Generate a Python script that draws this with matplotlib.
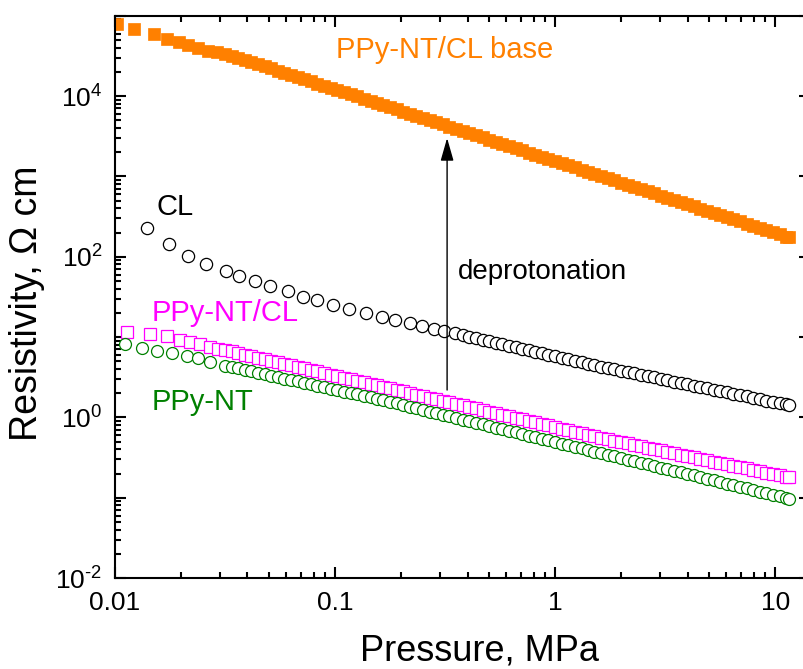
import numpy as np
import matplotlib.pyplot as plt
from matplotlib.ticker import LogLocator, FuncFormatter, NullFormatter

plt.rcParams['font.family'] = ['Liberation Sans', 'DejaVu Sans']
plt.rcParams['mathtext.fontset'] = 'custom'
plt.rcParams['mathtext.rm'] = 'Liberation Sans'
plt.rcParams['mathtext.default'] = 'regular'
plt.rcParams['axes.unicode_minus'] = False

# --- data (pressure in MPa, resistivity in Ohm cm) ---
pressure_grid = [0.0316, 0.0339, 0.0363, 0.0389, 0.0417, 0.0447, 0.0479, 0.0513, 0.0550, 0.0589,
                 0.0631, 0.0676, 0.0724, 0.0776, 0.0832, 0.0891, 0.0955, 0.102, 0.110, 0.118,
                 0.126, 0.135, 0.145, 0.155, 0.166, 0.178, 0.191, 0.204, 0.219, 0.234,
                 0.251, 0.269, 0.288, 0.309, 0.331, 0.355, 0.380, 0.407, 0.437, 0.468,
                 0.501, 0.537, 0.575, 0.617, 0.661, 0.708, 0.759, 0.813, 0.871, 0.933,
                 1.00, 1.07, 1.15, 1.23, 1.32, 1.41, 1.51, 1.62, 1.74, 1.86,
                 2.00, 2.14, 2.29, 2.45, 2.63, 2.82, 3.02, 3.24, 3.47, 3.72,
                 3.98, 4.27, 4.57, 4.90, 5.25, 5.62, 6.03, 6.46, 6.92, 7.41,
                 7.94, 8.51, 9.12, 9.77, 10.5, 11.2, 11.5]

# PPy-NT/CL base
base_p_low = [0.0102, 0.0122, 0.0151, 0.0172, 0.0196, 0.0214, 0.0239, 0.0265, 0.0290]
base_r_low = [78800, 68300, 59200, 51300, 47000, 43500, 39300, 36800, 34900]
base_r = [33100, 31300, 29900, 28200, 26500, 24900, 23500, 22100, 20700, 19500,
          18300, 17200, 16200, 15200, 14300, 13500, 12600, 11900, 11200, 10500,
          9880, 9290, 8730, 8210, 7720, 7260, 6820, 6410, 6030, 5670,
          5330, 5010, 4710, 4430, 4160, 3910, 3680, 3460, 3250, 3060,
          2870, 2700, 2540, 2390, 2240, 2110, 1980, 1870, 1750, 1650,
          1550, 1460, 1370, 1290, 1210, 1140, 1070, 1010, 945, 889,
          836, 786, 739, 694, 653, 614, 577, 542, 510, 479,
          451, 424, 398, 374, 352, 331, 311, 292, 275, 258,
          243, 228, 215, 202, 190, 178, 175]

# CL
cl_p_low = [0.0140, 0.0176, 0.0215, 0.0260, 0.0318, 0.0366, 0.0434, 0.0506, 0.0613, 0.0718,
            0.0831, 0.0982, 0.116, 0.138, 0.163, 0.188, 0.218, 0.249, 0.282, 0.314, 0.351]
cl_r_low = [225, 144, 103, 81, 66.7, 57.3, 49.7, 43.0, 37.3, 31.7,
            28.8, 24.9, 22.2, 19.7, 17.9, 16.2, 14.8, 13.7, 12.5, 11.8, 11.1]
cl_r = [10.55, 10.11, 9.68, 9.28, 8.89, 8.52, 8.16, 7.82, 7.49, 7.18,
        6.88, 6.59, 6.31, 6.05, 5.79, 5.55, 5.32, 5.10, 4.88, 4.68,
        4.48, 4.29, 4.11, 3.96, 3.81, 3.66, 3.52, 3.39, 3.26, 3.14,
        3.02, 2.90, 2.79, 2.69, 2.59, 2.49, 2.39, 2.30, 2.21, 2.13,
        2.05, 1.97, 1.90, 1.83, 1.76, 1.69, 1.62, 1.56, 1.50, 1.45, 1.43]

# PPy-NT/CL
ntcl_p_low = [0.0114, 0.0145, 0.0173, 0.0198, 0.0219, 0.0243, 0.0270, 0.0295]
ntcl_r_low = [11.4, 10.9, 10.3, 9.15, 8.57, 8.09, 7.55, 7.07]
ntcl_r = [6.92, 6.62, 6.33, 6.06, 5.80, 5.55, 5.31, 5.08, 4.86, 4.65,
          4.45, 4.25, 4.07, 3.89, 3.73, 3.56, 3.41, 3.26, 3.12, 2.99,
          2.86, 2.73, 2.62, 2.50, 2.39, 2.29, 2.19, 2.10, 2.01, 1.92,
          1.84, 1.76, 1.68, 1.61, 1.54, 1.47, 1.41, 1.35, 1.29, 1.23,
          1.18, 1.13, 1.08, 1.03, 0.989, 0.946, 0.905, 0.866, 0.829, 0.793,
          0.759, 0.726, 0.694, 0.664, 0.636, 0.608, 0.582, 0.557, 0.532, 0.512,
          0.492, 0.473, 0.454, 0.437, 0.420, 0.403, 0.388, 0.372, 0.358, 0.344,
          0.331, 0.318, 0.305, 0.293, 0.282, 0.271, 0.261, 0.250, 0.241, 0.231,
          0.222, 0.214, 0.205, 0.197, 0.190, 0.182, 0.180]

# PPy-NT
nt_p_low = [0.0111, 0.0132, 0.0156, 0.0181, 0.0212, 0.0239, 0.0270]
nt_r_low = [8.16, 7.21, 6.73, 6.25, 5.78, 5.41, 4.91]
nt_r = [4.42, 4.24, 4.06, 3.90, 3.74, 3.59, 3.44, 3.30, 3.17, 3.04,
        2.92, 2.80, 2.69, 2.58, 2.47, 2.37, 2.28, 2.18, 2.09, 2.01,
        1.93, 1.85, 1.77, 1.70, 1.63, 1.56, 1.49, 1.42, 1.36, 1.29,
        1.24, 1.18, 1.13, 1.08, 1.03, 0.983, 0.939, 0.897, 0.857, 0.818,
        0.782, 0.746, 0.713, 0.681, 0.651, 0.621, 0.594, 0.567, 0.542, 0.517,
        0.494, 0.472, 0.451, 0.431, 0.411, 0.393, 0.375, 0.358, 0.342, 0.327,
        0.312, 0.298, 0.285, 0.272, 0.260, 0.248, 0.237, 0.226, 0.216, 0.207,
        0.197, 0.189, 0.180, 0.172, 0.164, 0.157, 0.150, 0.143, 0.137, 0.131,
        0.125, 0.119, 0.114, 0.109, 0.104, 0.0992, 0.0968]

orange = '#FF8000'
magenta = '#FF00FF'
green = '#008000'

fig = plt.figure(figsize=(8.04, 6.69), dpi=100)
ax = fig.add_axes([0.143, 0.136, 0.8645, 0.8405])

ax.plot(base_p_low + pressure_grid, base_r_low + base_r, 's', color=orange,
        ms=8.8, mec=orange, mew=0.5)
ax.plot(cl_p_low + pressure_grid[36:], cl_r_low + cl_r, 'o', mfc='white',
        mec='black', ms=8.8, mew=0.9)
ax.plot(ntcl_p_low + pressure_grid, ntcl_r_low + ntcl_r, 's', mfc='white',
        mec=magenta, ms=8.0, mew=0.9)
ax.plot(nt_p_low + pressure_grid, nt_r_low + nt_r, 'o', mfc='white',
        mec=green, ms=8.6, mew=0.9)

ax.set_xscale('log')
ax.set_yscale('log')
ax.set_xlim(0.01, 14.4)
ax.set_ylim(1e-2, 1e5)

# axis ticks
ax.xaxis.set_major_locator(LogLocator(base=10, numticks=20))
ax.xaxis.set_minor_locator(LogLocator(base=10, subs=range(2, 10), numticks=20))
ax.xaxis.set_major_formatter(FuncFormatter(lambda v, pos: f'{v:g}'))
ax.xaxis.set_minor_formatter(NullFormatter())

def y_label(v, pos):
    e = int(round(np.log10(v)))
    if e % 2:
        return ''
    if e < 0:
        return r'$10^{\text{-}%d}$' % (-e)
    return r'$10^{%d}$' % e

ax.yaxis.set_major_locator(LogLocator(base=10, numticks=20))
ax.yaxis.set_minor_locator(LogLocator(base=10, subs=range(2, 10), numticks=20))
ax.yaxis.set_major_formatter(FuncFormatter(y_label))
ax.yaxis.set_minor_formatter(NullFormatter())

ax.tick_params(which='both', direction='in', top=True, right=True, width=1.5)
ax.tick_params(which='major', length=8, labelsize=19)
ax.tick_params(which='minor', length=4.5, right=False)
ax.tick_params(axis='x', which='major', pad=9)
ax.tick_params(axis='y', which='major', pad=9)
for s in ax.spines.values():
    s.set_linewidth(1.5)

ax.set_xlabel('Pressure, MPa', fontsize=26)
ax.set_ylabel('Resistivity, Ω cm', fontsize=27)
ax.xaxis.set_label_coords(0.524, -0.0995)
ax.yaxis.set_label_coords(-0.101, 0.488)

# annotations
ax.text(0.101, 37400, 'PPy-NT/CL base', color=orange, fontsize=21, ha='left', va='center')
ax.text(0.0155, 415, 'CL', color='black', fontsize=21, ha='left', va='center')
ax.text(0.0147, 19.9, 'PPy-NT/CL', color=magenta, fontsize=21, ha='left', va='center')
ax.text(0.0147, 1.55, 'PPy-NT', color=green, fontsize=21, ha='left', va='center')
ax.text(0.36, 64.4, 'deprotonation', color='black', fontsize=20, ha='left', va='center')
ax.annotate('', xy=(0.323, 3000), xytext=(0.323, 2.19),
            arrowprops=dict(arrowstyle='-|>,head_length=0.7,head_width=0.2',
                            color='black', lw=1, mutation_scale=20, shrinkA=0, shrinkB=0))

fig.savefig('out.png', dpi=100)
